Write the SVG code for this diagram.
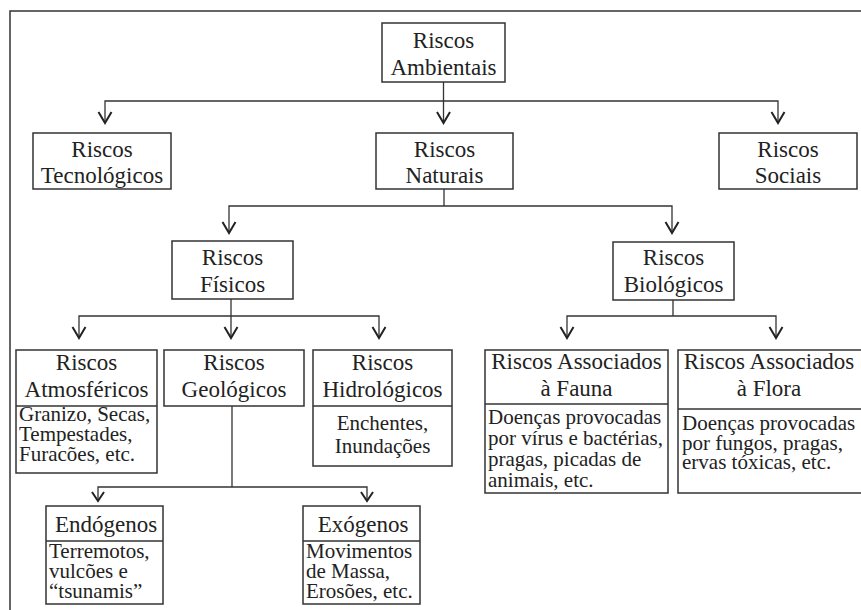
<svg xmlns="http://www.w3.org/2000/svg" width="861" height="610" viewBox="0 0 861 610">
<defs>
<style>
.bx{fill:#fff;stroke:#333;stroke-width:1.5}
.dv{stroke:#333;stroke-width:1.5;fill:none}
.cn{stroke:#333;stroke-width:1.3;fill:none}
.ah{stroke:#222;stroke-width:2;fill:none}
text{font-family:'Liberation Serif','DejaVu Serif',serif;fill:#222}
.h{font-size:23px;text-anchor:middle}
.d{font-size:21px}
.dc{text-anchor:middle}
</style>
</defs>
<rect width="861" height="610" fill="#fff"/>
<path class="dv" d="M10,610 V11 H861"/>
<g id="connectors">
<path class="cn" d="M443.5,82 V123 M105,123 V101 H778 V123"/>
<path class="cn" d="M444,189 V206 M229,233 V206 H672 V233"/>
<path class="cn" d="M231,299 V338 M79,338 V316 H379 V338"/>
<path class="cn" d="M673,300 V316 M567,338 V316 H776 V338"/>
<path class="cn" d="M232,406 V487 M98,501 V487 H367 V501"/>
<g class="ah">
<path d="M98.5,112 L105,123 L111.5,112"/>
<path d="M437,112 L443.5,123 L450,112"/>
<path d="M771.5,112 L778,123 L784.5,112"/>
<path d="M222.5,222 L229,233 L235.5,222"/>
<path d="M665.5,222 L672,233 L678.5,222"/>
<path d="M72.5,327 L79,338 L85.5,327"/>
<path d="M224.5,327 L231,338 L237.5,327"/>
<path d="M372.5,327 L379,338 L385.5,327"/>
<path d="M560.5,327 L567,338 L573.5,327"/>
<path d="M769.5,327 L776,338 L782.5,327"/>
<path d="M92,492 L98,501 L104,492"/>
<path d="M361,492 L367,501 L373,492"/>
</g>
</g>
<g id="ambientais">
<rect class="bx" x="382" y="23" width="123" height="59"/>
<text class="h" x="443.5" y="48" font-family="Liberation Serif, serif">Riscos</text>
<text class="h" x="443.5" y="75" font-family="Liberation Serif, serif">Ambientais</text>
</g>
<g id="tecnologicos">
<rect class="bx" x="33" y="133" width="138" height="56"/>
<text class="h" x="102" y="157">Riscos</text>
<text class="h" x="102" y="183">Tecnológicos</text>
</g>
<g id="naturais">
<rect class="bx" x="376" y="133" width="137" height="56"/>
<text class="h" x="444.5" y="157">Riscos</text>
<text class="h" x="444.5" y="183">Naturais</text>
</g>
<g id="sociais">
<rect class="bx" x="719" y="133" width="138" height="56"/>
<text class="h" x="788" y="157">Riscos</text>
<text class="h" x="788" y="183">Sociais</text>
</g>
<g id="fisicos">
<rect class="bx" x="172" y="241" width="121" height="58"/>
<text class="h" x="232.5" y="265">Riscos</text>
<text class="h" x="232.5" y="292">Físicos</text>
</g>
<g id="biologicos">
<rect class="bx" x="613" y="242" width="121" height="58"/>
<text class="h" x="673.5" y="265">Riscos</text>
<text class="h" x="673.5" y="292">Biológicos</text>
</g>
<g id="atmosfericos">
<rect class="bx" x="16" y="350" width="141" height="123"/>
<path class="dv" d="M16,406 H157"/>
<text class="h" x="86.5" y="370">Riscos</text>
<text class="h" x="86.5" y="397">Atmosféricos</text>
<text class="d" x="19" y="421">Granizo, Secas,</text>
<text class="d" x="19" y="441">Tempestades,</text>
<text class="d" x="19" y="461">Furacões, etc.</text>
</g>
<g id="geologicos">
<rect class="bx" x="164" y="350" width="140" height="56"/>
<text class="h" x="234" y="370">Riscos</text>
<text class="h" x="234" y="397">Geológicos</text>
</g>
<g id="hidrologicos">
<rect class="bx" x="313" y="350" width="139" height="116"/>
<path class="dv" d="M313,406 H452"/>
<text class="h" x="382.5" y="370">Riscos</text>
<text class="h" x="382.5" y="397">Hidrológicos</text>
<text class="d dc" x="382.5" y="430">Enchentes,</text>
<text class="d dc" x="382.5" y="453">Inundações</text>
</g>
<g id="endogenos">
<rect class="bx" x="46" y="506" width="117" height="98"/>
<path class="dv" d="M46,541 H163"/>
<text class="h" x="106" y="532">Endógenos</text>
<text class="d" x="49" y="558">Terremotos,</text>
<text class="d" x="49" y="578">vulcões e</text>
<text class="d" x="49" y="598">“tsunamis”</text>
</g>
<g id="exogenos">
<rect class="bx" x="303" y="506" width="117" height="98"/>
<path class="dv" d="M303,541 H420"/>
<text class="h" x="363" y="532">Exógenos</text>
<text class="d" x="306" y="558">Movimentos</text>
<text class="d" x="306" y="578">de Massa,</text>
<text class="d" x="306" y="598">Erosões, etc.</text>
</g>
<g id="fauna">
<rect class="bx" x="485" y="350" width="183" height="143"/>
<path class="dv" d="M485,404 H668"/>
<text class="h" x="576.5" y="369">Riscos Associados</text>
<text class="h" x="576.5" y="396">à Fauna</text>
<text class="d" x="488" y="424">Doenças provocadas</text>
<text class="d" x="488" y="445">por vírus e bactérias,</text>
<text class="d" x="488" y="466">pragas, picadas de</text>
<text class="d" x="488" y="487">animais, etc.</text>
</g>
<g id="flora">
<rect class="bx" x="678" y="350" width="186" height="143"/>
<path class="dv" d="M678,409 H864"/>
<text class="h" x="769" y="369">Riscos Associados</text>
<text class="h" x="769" y="396">à Flora</text>
<text class="d" x="682" y="430">Doenças provocadas</text>
<text class="d" x="682" y="450">por fungos, pragas,</text>
<text class="d" x="682" y="469">ervas tóxicas, etc.</text>
</g>
</svg>
